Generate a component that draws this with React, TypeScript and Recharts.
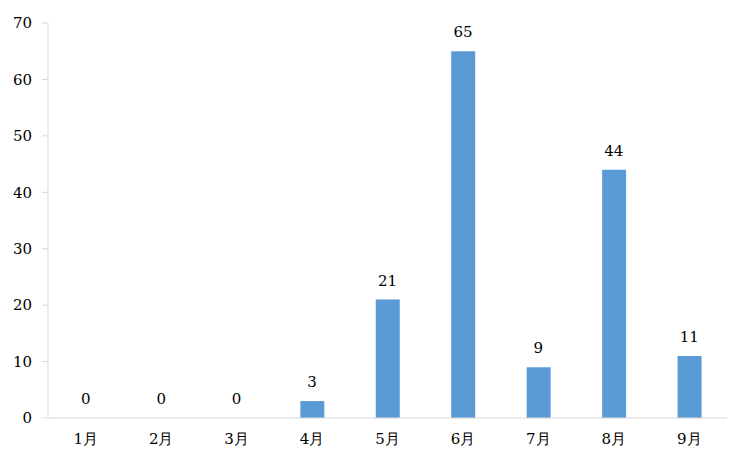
import React from 'react';
import { ComposedChart, Bar, Line, XAxis, YAxis, LabelList } from 'recharts';

const months = ['1月', '2月', '3月', '4月', '5月', '6月', '7月', '8月', '9月'];
const counts = [0, 0, 0, 3, 21, 65, 9, 44, 11];
const yTicks = [0, 10, 20, 30, 40, 50, 60, 70];

const data = months.map((m, i) => ({ month: m, value: counts[i] }));

const FONT = '"DejaVu Serif"';
const FS = 15;

export default function App() {
  return (
    <div
      style={{
        position: 'absolute',
        left: 0,
        top: 0,
        width: 750,
        height: 467,
        background: '#fff',
        fontFamily: FONT,
      }}
    >
      <ComposedChart
        width={750}
        height={467}
        data={data}
        margin={{ top: 23, right: 23, left: 0, bottom: 19 }}
      >
        <XAxis
          dataKey="month"
          axisLine={{ stroke: '#d9d9d9' }}
          tickLine={false}
          tickSize={0}
          tickMargin={15}
          height={30}
          tick={{ fill: '#000', fontSize: FS, fontFamily: FONT }}
        />
        <YAxis
          domain={[0, 70]}
          ticks={yTicks}
          width={48}
          axisLine={{ stroke: '#d9d9d9' }}
          tickLine={{ stroke: '#d9d9d9' }}
          tickSize={6}
          tickMargin={10}
          tick={{ fill: '#000', fontSize: FS, fontFamily: FONT }}
        />
        <Bar dataKey="value" fill="#5B9BD5" barSize={24} isAnimationActive={false} />
        <Line
          dataKey="value"
          stroke="none"
          dot={false}
          activeDot={false}
          isAnimationActive={false}
        >
          <LabelList
            dataKey="value"
            position="top"
            offset={14}
            fill="#000"
            fontSize={FS}
            fontFamily={FONT}
          />
        </Line>
      </ComposedChart>
    </div>
  );
}
